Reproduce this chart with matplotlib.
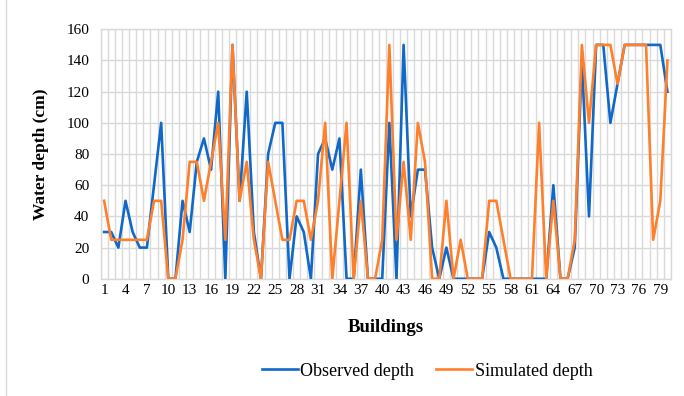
import numpy as np
import matplotlib
matplotlib.use("Agg")
import matplotlib.pyplot as plt
from matplotlib.lines import Line2D

plt.rcParams['font.family'] = ['Liberation Serif', 'DejaVu Serif']

# building numbers and water depths (cm)
buildings = np.arange(1, 81)
observed = [30, 30, 20, 50, 30, 20, 20, 60, 100, 0,
            0, 50, 30, 75, 90, 70, 120, 0, 150, 50,
            120, 30, 0, 80, 100, 100, 0, 40, 30, 0,
            80, 90, 70, 90, 0, 0, 70, 0, 0, 0,
            100, 0, 150, 40, 70, 70, 20, 0, 20, 0,
            0, 0, 0, 0, 30, 20, 0, 0, 0, 0,
            0, 0, 0, 60, 0, 0, 20, 140, 40, 150,
            150, 100, 125, 150, 150, 150, 150, 150, 150, 120]
simulated = [50, 25, 25, 25, 25, 25, 25, 50, 50, 0,
             0, 25, 75, 75, 50, 75, 100, 25, 150, 50,
             75, 25, 0, 75, 50, 25, 25, 50, 50, 25,
             50, 100, 0, 50, 100, 0, 50, 0, 0, 25,
             150, 25, 75, 25, 100, 75, 0, 0, 50, 0,
             25, 0, 0, 0, 50, 50, 25, 0, 0, 0,
             0, 100, 0, 50, 0, 0, 25, 150, 100, 150,
             150, 150, 125, 150, 150, 150, 150, 25, 50, 140]
xtick_labels = buildings[::3]

fig = plt.figure(figsize=(6.84, 3.96), dpi=100)
ax = fig.add_axes([0.147, 0.296, 0.834, 0.630])

blue = '#1068c8'
orange = '#ff7f2a'
grid_c = '#d9d9d9'

ax.plot(buildings, observed, color=blue, lw=1.9, label='Observed depth', zorder=3)
ax.plot(buildings, simulated, color=orange, lw=1.9, label='Simulated depth', zorder=4)

ax.set_xlim(0.5, 80.5)
ax.set_ylim(0, 160)
ax.set_yticks(np.arange(0, 161, 20))
ax.set_xticks(xtick_labels)
ax.set_xticklabels([str(v) for v in xtick_labels])

# category gridlines between buildings
ax.set_xticks(np.arange(0.5, 81, 1), minor=True)
ax.grid(which='minor', axis='x', color=grid_c, lw=1.0)
ax.grid(which='major', axis='y', color=grid_c, lw=1.0)
ax.set_axisbelow(True)

ax.tick_params(axis='both', which='both', length=0, labelsize=11)
ax.tick_params(axis='x', pad=4)
ax.tick_params(axis='y', pad=8)
for s in ax.spines.values():
    s.set_color(grid_c)
    s.set_linewidth(1.0)

ax.set_ylabel('Water depth (cm)', fontsize=12.5, fontweight='bold')
ax.yaxis.set_label_coords(-0.09, 0.5)
ax.set_xlabel('Buildings', fontsize=13.5, fontweight='bold')
ax.xaxis.set_label_coords(0.5, -0.16)

fig.legend(loc='center', bbox_to_anchor=(427 / 684, 1 - 371 / 396), ncol=2,
           frameon=False, fontsize=13, handlelength=2.0, handletextpad=0.15,
           columnspacing=1.2)

# outer chart border on the left edge
fig.add_artist(Line2D([0.009, 0.009], [0, 1], color=grid_c, lw=1.0,
                      transform=fig.transFigure))

fig.savefig('out.png', dpi=100)
